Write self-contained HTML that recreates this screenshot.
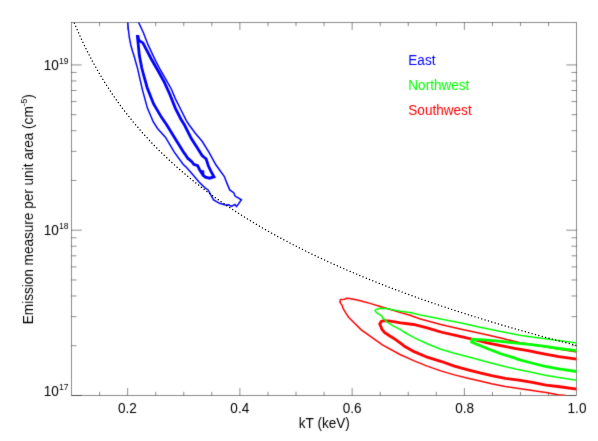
<!DOCTYPE html>
<html><head><meta charset="utf-8"><title>Emission measure vs kT</title>
<style>
html,body{margin:0;padding:0;background:#fff;}
body{width:598px;height:441px;overflow:hidden;font-family:"Liberation Sans",sans-serif;}
svg{display:block;}
text{font-family:"Liberation Sans",sans-serif;font-size:15.0px;fill:#000;}
.sup{font-size:9.5px;}
</style></head><body>
<svg width="598" height="441" viewBox="0 0 598 441">
<rect x="0" y="0" width="598" height="441" fill="#fff"/>
<defs><filter id="bl" x="0" y="0" width="100%" height="100%" filterUnits="userSpaceOnUse" color-interpolation-filters="sRGB"><feConvolveMatrix order="3" kernelMatrix="0.01134 0.08382 0.01134 0.08382 0.61935 0.08382 0.01134 0.08382 0.01134" edgeMode="duplicate" preserveAlpha="true"/></filter><clipPath id="pc"><rect x="71.5" y="22.5" width="505.0" height="373.0"/></clipPath></defs>
<g filter="url(#bl)">
<rect x="0" y="0" width="598" height="441" fill="#fff"/>
<g fill="none" stroke="#000" stroke-width="0.45">
<rect x="71.5" y="22.5" width="505.0" height="373.0"/>
<path d="M99.57,395.5 V391.80 M99.57,22.5 V26.20 M127.63,395.5 V388.10 M127.63,22.5 V29.90 M155.69,395.5 V391.80 M155.69,22.5 V26.20 M183.76,395.5 V391.80 M183.76,22.5 V26.20 M211.82,395.5 V391.80 M211.82,22.5 V26.20 M239.89,395.5 V388.10 M239.89,22.5 V29.90 M267.96,395.5 V391.80 M267.96,22.5 V26.20 M296.02,395.5 V391.80 M296.02,22.5 V26.20 M324.09,395.5 V391.80 M324.09,22.5 V26.20 M352.15,395.5 V388.10 M352.15,22.5 V29.90 M380.21,395.5 V391.80 M380.21,22.5 V26.20 M408.28,395.5 V391.80 M408.28,22.5 V26.20 M436.34,395.5 V391.80 M436.34,22.5 V26.20 M464.41,395.5 V388.10 M464.41,22.5 V29.90 M492.47,395.5 V391.80 M492.47,22.5 V26.20 M520.54,395.5 V391.80 M520.54,22.5 V26.20 M548.61,395.5 V391.80 M548.61,22.5 V26.20 M71.5,395.50 H81.70 M576.5,395.50 H566.30 M71.5,345.74 H76.50 M576.5,345.74 H571.50 M71.5,316.63 H76.50 M576.5,316.63 H571.50 M71.5,295.98 H76.50 M576.5,295.98 H571.50 M71.5,279.96 H76.50 M576.5,279.96 H571.50 M71.5,266.87 H76.50 M576.5,266.87 H571.50 M71.5,255.81 H76.50 M576.5,255.81 H571.50 M71.5,246.22 H76.50 M576.5,246.22 H571.50 M71.5,237.76 H76.50 M576.5,237.76 H571.50 M71.5,230.20 H81.70 M576.5,230.20 H566.30 M71.5,180.44 H76.50 M576.5,180.44 H571.50 M71.5,151.33 H76.50 M576.5,151.33 H571.50 M71.5,130.68 H76.50 M576.5,130.68 H571.50 M71.5,114.66 H76.50 M576.5,114.66 H571.50 M71.5,101.57 H76.50 M576.5,101.57 H571.50 M71.5,90.51 H76.50 M576.5,90.51 H571.50 M71.5,80.92 H76.50 M576.5,80.92 H571.50 M71.5,72.46 H76.50 M576.5,72.46 H571.50 M71.5,64.90 H81.70 M576.5,64.90 H566.30"/>
</g>
<g clip-path="url(#pc)" fill="none" stroke-linejoin="miter" stroke-miterlimit="3" stroke-linecap="butt">
<path d="M127.7,22.0 L128.4,30.0 L129.4,38.0 L130.8,45.0 L132.6,51.5 L133.8,55.0 L137.6,68.6 L141.3,84.9 L142.6,90.4 L147.4,108.1 L153.2,121.7 L157.5,128.5 L165.4,137.2 L174.3,152.2 L183.1,164.2 L186.8,167.8 L192.9,174.8 L199.0,182.0 L205.0,187.9 L208.1,189.9 L210.5,194.4 L213.6,199.9 L219.6,203.3 L225.4,205.0 L228.8,204.8 L231.2,206.3 L234.9,204.5 L236.6,206.6 L241.4,199.8 L235.1,196.1 L233.7,192.7 L229.7,189.9 L226.9,183.1 L224.2,176.3 L220.5,171.3 L215.7,164.5 L208.9,152.2 L202.1,141.3 L195.3,133.2 L189.2,125.0 L186.2,120.3 L180.8,109.5 L175.3,98.6 L171.3,89.0 L165.4,78.6 L160.4,70.0 L155.1,59.9 L148.1,44.9 L143.4,32.7 L138.4,22.0" stroke="#0000ff" stroke-width="1.5"/>
<path d="M137.4,36.4 L139.4,55.8 L141.8,68.0 L143.6,75.0 L147.2,87.7 L153.6,104.0 L161.7,117.6 L166.8,125.0 L174.3,137.2 L183.1,151.5 L185.0,154.1 L187.7,158.2 L191.8,161.6 L193.8,164.4 L197.6,165.6 L199.6,169.7 L201.7,173.1 L202.8,170.6 L203.0,175.2 L205.4,177.2 L209.5,178.2 L214.0,176.9 L211.0,171.3 L208.3,165.8 L206.2,159.0 L202.1,155.6 L197.4,148.1 L191.3,138.6 L184.5,125.0 L180.8,119.0 L175.3,108.1 L169.9,94.5 L164.3,82.2 L157.6,70.0 L151.0,58.5 L142.9,42.9 L138.9,40.4 L138.0,36.4 Z" stroke="#0000ff" stroke-width="2.8"/>
<path d="M576.8,352.0 L540.0,346.0 L528.0,343.8 L521.2,342.9 L500.8,338.1 L480.0,333.3 L461.2,329.3 L440.8,324.5 L420.4,319.0 L410.0,315.3 L400.6,312.6 L390.4,309.5 L380.2,306.5 L370.0,303.4 L362.2,301.2 L357.2,300.0 L349.6,298.4 L346.6,298.3 L344.5,299.2 L340.4,299.6 L339.9,302.0 L341.1,303.9 L342.5,306.0 L342.6,307.2 L343.8,309.7 L345.9,313.1 L348.6,317.2 L353.1,321.7 L361.3,329.9 L370.8,336.7 L382.4,344.9 L400.0,354.5 L413.6,360.6 L427.2,366.1 L440.8,370.9 L454.4,374.9 L468.0,378.3 L480.0,381.1 L491.6,383.8 L505.2,386.5 L518.8,388.5 L532.4,390.6 L546.0,392.6 L558.0,394.7 L566.0,395.5" stroke="#ff0000" stroke-width="1.5"/>
<path d="M576.8,359.2 L558.8,356.6 L545.2,354.2 L540.0,353.1 L528.0,350.6 L514.4,348.3 L500.8,345.6 L487.2,342.9 L473.6,339.5 L460.0,336.4 L440.8,332.0 L427.2,327.9 L413.6,324.5 L400.6,322.8 L390.4,321.2 L384.2,320.7 L381.2,321.4 L379.7,324.0 L380.8,326.4 L382.0,329.5 L384.8,332.6 L389.9,336.0 L395.3,339.4 L402.8,344.9 L404.1,346.0 L413.6,351.4 L427.2,357.2 L436.7,360.2 L440.8,361.3 L454.4,366.1 L468.0,369.8 L480.0,372.9 L491.6,375.6 L505.2,378.3 L518.8,380.1 L532.4,382.4 L546.0,385.1 L558.0,386.5 L576.8,389.2" stroke="#ff0000" stroke-width="2.8"/>
<path d="M576.8,342.9 L545.2,338.8 L521.2,335.4 L500.8,331.6 L480.0,327.2 L461.2,323.1 L440.8,319.0 L420.4,315.0 L410.0,312.6 L400.6,311.2 L393.8,309.9 L387.0,308.5 L380.2,308.3 L376.8,309.2 L375.1,310.2 L375.8,311.9 L377.5,313.3 L379.5,314.6 L381.9,316.0 L382.2,317.7 L384.6,319.7 L387.7,322.4 L393.1,325.9 L400.6,329.6 L404.0,332.0 L413.6,337.4 L427.2,343.7 L440.8,349.2 L454.4,353.3 L468.0,356.7 L476.2,359.0 L487.2,362.0 L500.8,365.6 L518.0,369.5 L531.6,372.2 L545.2,375.2 L558.8,377.6 L576.8,380.3" stroke="#00ff00" stroke-width="1.5"/>
<path d="M576.8,350.7 L558.8,348.5 L545.2,346.3 L531.6,344.7 L514.4,342.9 L500.8,341.3 L487.2,340.2 L472.3,339.3 L471.7,342.1 L480.4,345.8 L487.2,348.5 L500.8,353.8 L514.4,357.9 L518.0,359.4 L531.6,363.0 L545.2,366.3 L558.8,368.8 L576.8,371.5" stroke="#00ff00" stroke-width="2.8"/>
</g>
<g>
<text transform="translate(127.4,413.0) scale(0.905,1)" text-anchor="middle" style="fill:#000">0.2</text>
<text transform="translate(239.8,413.0) scale(0.905,1)" text-anchor="middle" style="fill:#000">0.4</text>
<text transform="translate(352.2,413.0) scale(0.905,1)" text-anchor="middle" style="fill:#000">0.6</text>
<text transform="translate(464.6,413.0) scale(0.905,1)" text-anchor="middle" style="fill:#000">0.8</text>
<text transform="translate(577.0,413.0) scale(0.905,1)" text-anchor="middle" style="fill:#000">1.0</text>
<text transform="translate(324.3,427.8) scale(0.905,1)" text-anchor="middle" style="fill:#000">kT (keV)</text>
<text transform="translate(43.8,69.6) scale(0.905,1)" text-anchor="start" style="fill:#000">10<tspan class="sup" dy="-5.6">19</tspan></text>
<text transform="translate(43.8,234.7) scale(0.905,1)" text-anchor="start" style="fill:#000">10<tspan class="sup" dy="-5.6">18</tspan></text>
<text transform="translate(43.8,395.9) scale(0.905,1)" text-anchor="start" style="fill:#000">10<tspan class="sup" dy="-5.6">17</tspan></text>
<text transform="translate(32.6,324.2) rotate(-90) scale(0.905,1)" text-anchor="start" style="fill:#000">Emission measure per unit area (cm<tspan class="sup" dy="-5.6">-5</tspan><tspan dy="5.6">)</tspan></text>
<text transform="translate(408.3,65) scale(0.905,1)" text-anchor="start" style="fill:#0000ff">East</text>
<text transform="translate(408.3,90.4) scale(0.905,1)" text-anchor="start" style="fill:#00ff00">Northwest</text>
<text transform="translate(408.3,115) scale(0.905,1)" text-anchor="start" style="fill:#ff0000">Southwest</text>
</g>
</g>
<g clip-path="url(#pc)" fill="none" stroke-linejoin="round" stroke-linecap="round">
<path d="M74.3,22.9 L75.6,25.9 L76.8,28.8 L78.1,31.7 L79.3,34.5 L80.6,37.3 L81.8,40.0 L83.1,42.7 L84.3,45.3 L85.6,47.9 L86.9,50.5 L88.1,52.9 L89.4,55.4 L90.6,57.8 L91.9,60.2 L93.1,62.5 L94.4,64.8 L95.7,67.0 L96.9,69.3 L98.2,71.4 L99.4,73.6 L100.7,75.7 L101.9,77.8 L103.2,79.9 L104.4,81.9 L105.7,83.9 L107.0,85.9 L108.2,87.8 L109.5,89.7 L110.7,91.6 L112.0,93.5 L113.2,95.4 L114.5,97.2 L115.8,99.0 L117.0,100.8 L118.3,102.5 L119.5,104.3 L120.8,106.0 L122.0,107.7 L123.3,109.3 L124.5,111.0 L125.8,112.6 L127.1,114.2 L128.3,115.8 L129.6,117.4 L130.8,119.0 L132.1,120.5 L133.3,122.1 L134.6,123.6 L135.9,125.1 L137.1,126.6 L138.4,128.0 L139.6,129.5 L140.9,130.9 L142.1,132.4 L143.4,133.8 L144.6,135.2 L145.9,136.6 L147.2,137.9 L148.4,139.3 L149.7,140.6 L150.9,142.0 L152.2,143.3 L153.4,144.6 L154.7,145.9 L156.0,147.2 L157.2,148.4 L158.5,149.7 L159.7,151.0 L161.0,152.2 L162.2,153.4 L163.5,154.6 L164.8,155.9 L166.0,157.1 L167.3,158.2 L168.5,159.4 L169.8,160.6 L171.0,161.7 L172.3,162.9 L173.5,164.0 L174.8,165.2 L176.1,166.3 L177.3,167.4 L178.6,168.5 L179.8,169.6 L181.1,170.7 L182.3,171.8 L183.6,172.9 L184.8,173.9 L186.1,175.0 L187.4,176.0 L188.6,177.1 L189.9,178.1 L191.1,179.1 L192.4,180.2 L193.6,181.2 L194.9,182.2 L196.2,183.2 L197.4,184.2 L198.7,185.1 L199.9,186.1 L201.2,187.1 L202.4,188.1 L203.7,189.0 L204.9,190.0 L206.2,190.9 L207.5,191.9 L208.7,192.8 L210.0,193.7 L211.2,194.6 L212.5,195.6 L213.7,196.5 L215.0,197.4 L216.3,198.3 L217.5,199.2 L218.8,200.0 L220.0,200.9 L221.3,201.8 L222.5,202.7 L223.8,203.5 L225.0,204.4 L226.3,205.3 L227.6,206.1 L228.8,207.0 L230.1,207.8 L231.3,208.6 L232.6,209.5 L233.8,210.3 L235.1,211.1 L236.4,211.9 L237.6,212.7 L238.9,213.5 L240.1,214.3 L241.4,215.1 L242.6,215.9 L243.9,216.7 L245.1,217.5 L246.4,218.3 L247.7,219.1 L248.9,219.8 L250.2,220.6 L251.4,221.4 L252.7,222.1 L253.9,222.9 L255.2,223.6 L256.5,224.4 L257.7,225.1 L259.0,225.9 L260.2,226.6 L261.5,227.4 L262.7,228.1 L264.0,228.8 L265.2,229.5 L266.5,230.2 L267.8,231.0 L269.0,231.7 L270.3,232.4 L271.5,233.1 L272.8,233.8 L274.0,234.5 L275.3,235.2 L276.6,235.9 L277.8,236.6 L279.1,237.2 L280.3,237.9 L281.6,238.6 L282.8,239.3 L284.1,239.9 L285.3,240.6 L286.6,241.3 L287.9,241.9 L289.1,242.6 L290.4,243.3 L291.6,243.9 L292.9,244.6 L294.1,245.2 L295.4,245.8 L296.7,246.5 L297.9,247.1 L299.2,247.8 L300.4,248.4 L301.7,249.0 L302.9,249.7 L304.2,250.3 L305.4,250.9 L306.7,251.5 L308.0,252.1 L309.2,252.7 L310.5,253.4 L311.7,254.0 L313.0,254.6 L314.2,255.2 L315.5,255.8 L316.8,256.4 L318.0,257.0 L319.3,257.6 L320.5,258.2 L321.8,258.7 L323.0,259.3 L324.3,259.9 L325.5,260.5 L326.8,261.1 L328.1,261.7 L329.3,262.2 L330.6,262.8 L331.8,263.4 L333.1,263.9 L334.3,264.5 L335.6,265.1 L336.9,265.6 L338.1,266.2 L339.4,266.7 L340.6,267.3 L341.9,267.8 L343.1,268.4 L344.4,268.9 L345.6,269.5 L346.9,270.0 L348.2,270.6 L349.4,271.1 L350.7,271.7 L351.9,272.2 L353.2,272.7 L354.4,273.3 L355.7,273.8 L357.0,274.3 L358.2,274.8 L359.5,275.4 L360.7,275.9 L362.0,276.4 L363.2,276.9 L364.5,277.4 L365.8,278.0 L367.0,278.5 L368.3,279.0 L369.5,279.5 L370.8,280.0 L372.0,280.5 L373.3,281.0 L374.5,281.5 L375.8,282.0 L377.1,282.5 L378.3,283.0 L379.6,283.5 L380.8,284.0 L382.1,284.5 L383.3,285.0 L384.6,285.5 L385.8,286.0 L387.1,286.4 L388.4,286.9 L389.6,287.4 L390.9,287.9 L392.1,288.4 L393.4,288.8 L394.6,289.3 L395.9,289.8 L397.2,290.3 L398.4,290.7 L399.7,291.2 L400.9,291.7 L402.2,292.1 L403.4,292.6 L404.7,293.1 L405.9,293.5 L407.2,294.0 L408.5,294.4 L409.7,294.9 L411.0,295.4 L412.2,295.8 L413.5,296.3 L414.7,296.7 L416.0,297.2 L417.3,297.6 L418.5,298.1 L419.8,298.5 L421.0,299.0 L422.3,299.4 L423.5,299.8 L424.8,300.3 L426.0,300.7 L427.3,301.2 L428.6,301.6 L429.8,302.0 L431.1,302.5 L432.3,302.9 L433.6,303.3 L434.8,303.8 L436.1,304.2 L437.4,304.6 L438.6,305.0 L439.9,305.5 L441.1,305.9 L442.4,306.3 L443.6,306.7 L444.9,307.1 L446.1,307.6 L447.4,308.0 L448.7,308.4 L449.9,308.8 L451.2,309.2 L452.4,309.6 L453.7,310.0 L454.9,310.5 L456.2,310.9 L457.5,311.3 L458.7,311.7 L460.0,312.1 L461.2,312.5 L462.5,312.9 L463.7,313.3 L465.0,313.7 L466.2,314.1 L467.5,314.5 L468.8,314.9 L470.0,315.3 L471.3,315.7 L472.5,316.1 L473.8,316.5 L475.0,316.9 L476.3,317.3 L477.6,317.6 L478.8,318.0 L480.1,318.4 L481.3,318.8 L482.6,319.2 L483.8,319.6 L485.1,320.0 L486.3,320.3 L487.6,320.7 L488.9,321.1 L490.1,321.5 L491.4,321.9 L492.6,322.2 L493.9,322.6 L495.1,323.0 L496.4,323.4 L497.7,323.7 L498.9,324.1 L500.2,324.5 L501.4,324.9 L502.7,325.2 L503.9,325.6 L505.2,326.0 L506.4,326.3 L507.7,326.7 L509.0,327.1 L510.2,327.4 L511.5,327.8 L512.7,328.2 L514.0,328.5 L515.2,328.9 L516.5,329.2 L517.8,329.6 L519.0,330.0 L520.3,330.3 L521.5,330.7 L522.8,331.0 L524.0,331.4 L525.3,331.7 L526.5,332.1 L527.8,332.4 L529.1,332.8 L530.3,333.1 L531.6,333.5 L532.8,333.8 L534.1,334.2 L535.3,334.5 L536.6,334.9 L537.9,335.2 L539.1,335.6 L540.4,335.9 L541.6,336.3 L542.9,336.6 L544.1,336.9 L545.4,337.3 L546.6,337.6 L547.9,338.0 L549.2,338.3 L550.4,338.6 L551.7,339.0 L552.9,339.3 L554.2,339.6 L555.4,340.0 L556.7,340.3 L558.0,340.6 L559.2,341.0 L560.5,341.3 L561.7,341.6 L563.0,342.0 L564.2,342.3 L565.5,342.6 L566.7,342.9 L568.0,343.3 L569.3,343.6 L570.5,343.9 L571.8,344.2 L573.0,344.6 L574.3,344.9 L575.5,345.2 L576.8,345.5" stroke="#000" stroke-width="1.35" stroke-dasharray="0.1 3.4" stroke-dashoffset="-0.25"/>
</g>
</svg>
</body></html>
